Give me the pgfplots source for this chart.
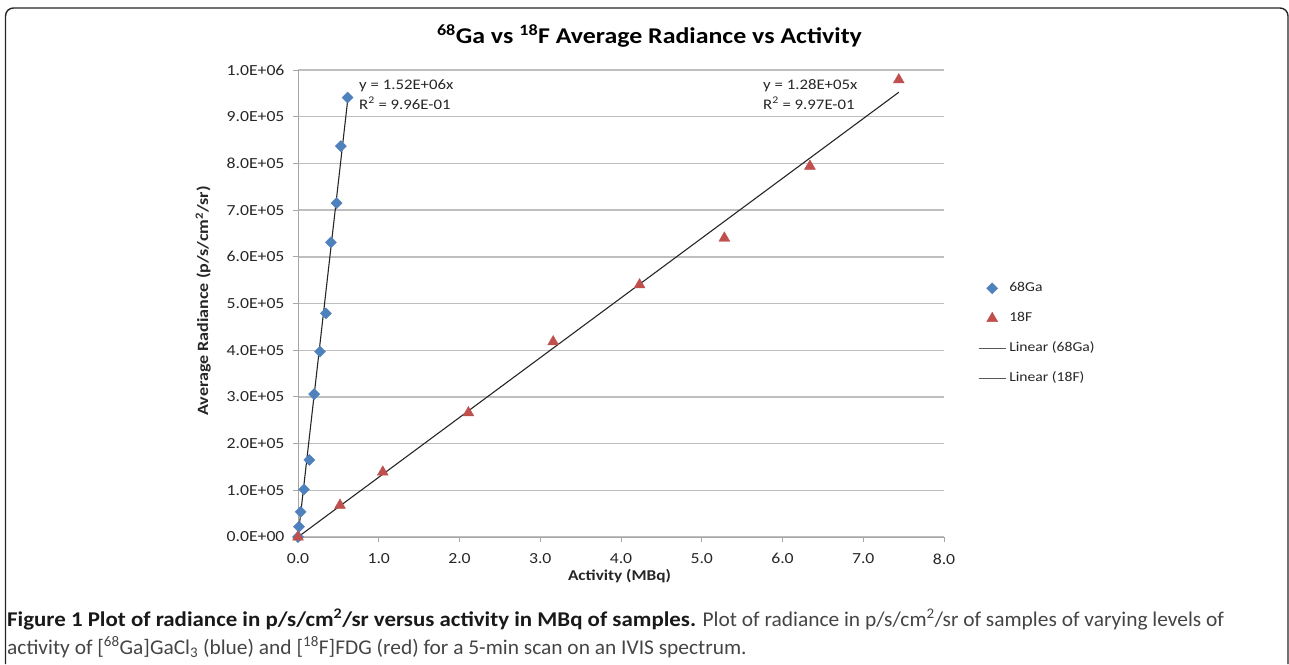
\documentclass[border=0pt]{standalone}
\usepackage{pgfplots}
\pgfplotsset{compat=1.18}
\usepackage{fontspec}
\setmainfont{Carlito}[FakeStretch=1.15]
\newfontfamily\capfont{Carlito}[FakeStretch=1.02, BoldFeatures={FakeStretch=1.09}]
\definecolor{gablue}{HTML}{4F81BD}
\definecolor{fred}{HTML}{C0504D}
\definecolor{gridc}{HTML}{BEBEBE}
\definecolor{axc}{HTML}{A6A6A6}
\definecolor{txt}{HTML}{262626}
\definecolor{captxt}{HTML}{444444}

\pgfplotsset{
  markleg/.style={legend image code/.code={\draw[##1] plot coordinates {(13.5pt,0pt)};}},
  lineleg/.style={legend image code/.code={\draw[draw=black!65, line width=1.1pt] (0pt,0pt)--(27pt,0pt);}},
}

\pgfplotstableread{
x y
0 0
0.012 22000
0.033 54000
0.074 102000
0.14 165000
0.20 306000
0.272 397000
0.346 479000
0.408 631000
0.478 715000
0.531 837000
0.614 941000
}\gadata

\pgfplotstableread{
x y
0 0
0.52 68000
1.05 139000
2.11 266000
3.16 418000
4.23 540000
5.28 640000
6.34 794000
7.44 979000
}\fdata

\pgfplotstableread{
x y
0 0
0.614 933300
}\galin

\pgfplotstableread{
x y
0 0
7.44 952300
}\flin

\begin{document}
\begin{tikzpicture}
\path[use as bounding box] (0,0) rectangle (1289pt,-664pt);
\draw[rounded corners=8pt, line width=1.4pt, black!85]
  (5.5pt,-664pt) -- (5.5pt,-8pt) -- (1288pt,-8pt) -- (1288pt,-664pt);

\begin{axis}[
  at={(298pt,-537pt)}, anchor=south west,
  scale only axis, width=646pt, height=467pt,
  xmin=0, xmax=8, ymin=0, ymax=1000000,
  axis x line=bottom, axis y line=left,
  axis line style={draw=axc, line width=1pt, -},
  tick style={draw=axc, line width=1pt},
  tick align=outside, major tick length=5pt,
  xtick={0,1,2,3,4,5,6,7,8},
  xticklabels={0.0,1.0,2.0,3.0,4.0,5.0,6.0,7.0,8.0},
  ytick={0,100000,200000,300000,400000,500000,600000,700000,800000,900000,1000000},
  yticklabels={0.0E+00,1.0E+05,2.0E+05,3.0E+05,4.0E+05,5.0E+05,6.0E+05,7.0E+05,8.0E+05,9.0E+05,1.0E+06},
  scaled ticks=false,
  ymajorgrids, major grid style={draw=gridc, line width=1.4pt},
  tick label style={font=\fontsize{15.4}{18}\selectfont, text=txt},
  yticklabel style={xshift=-5pt},
  xticklabel style={yshift=-8pt},
  legend cell align=left,
  legend style={at={(1.0526,0.548)}, anchor=north west, draw=none, fill=none,
    inner sep=0pt, row sep=16.2pt, column sep=2pt,
    font=\fontsize{13.6}{16}\selectfont,
    nodes={inner sep=1pt, text height=9pt, text depth=3pt, text=txt}},
  clip=false,
]
\addplot[only marks, mark=square*, mark size=3.9pt, mark options={rotate=45, fill=gablue, draw=gablue}, markleg] table {\gadata};
\addlegendentry{68Ga}
\addplot[only marks, mark=triangle*, mark size=6.3pt, mark options={fill=fred, draw=fred}, markleg] table {\fdata};
\addlegendentry{18F}
\addplot[draw=black!85, line width=1.1pt, no marks, lineleg] table {\galin};
\addlegendentry{Linear (68Ga)}
\addplot[draw=black!85, line width=1.1pt, no marks, lineleg] table {\flin};
\addlegendentry{Linear (18F)}
\end{axis}

% title and labels
\node[anchor=base, font=\bfseries\fontsize{22.5}{26}\selectfont, text=black] at (649.5pt,-43.3pt)
  {\textsuperscript{68}Ga vs \textsuperscript{18}F Average Radiance vs Activity};
\node[anchor=base, rotate=90, font=\bfseries\fontsize{15.7}{18}\selectfont, text=txt] at (208pt,-301pt)
  {Average Radiance (p/s/cm\textsuperscript{2}/sr)};
\node[anchor=base, font=\bfseries\fontsize{15}{18}\selectfont, text=txt] at (619.5pt,-580pt)
  {Activity (MBq)};

% trendline labels
\node[anchor=base west, inner sep=0pt, font=\fontsize{14.6}{18}\selectfont, text=txt] at (359pt,-89pt) {y = 1.52E+06x};
\node[anchor=base west, inner sep=0pt, font=\fontsize{14.6}{18}\selectfont, text=txt] at (359pt,-109pt) {R\textsuperscript{2} = 9.96E-01};
\node[anchor=base west, inner sep=0pt, font=\fontsize{14.6}{18}\selectfont, text=txt] at (763pt,-89pt) {y = 1.28E+05x};
\node[anchor=base west, inner sep=0pt, font=\fontsize{14.6}{18}\selectfont, text=txt] at (763pt,-109pt) {R\textsuperscript{2} = 9.97E-01};

% caption
\node[anchor=base west, inner sep=0pt, font=\capfont\fontsize{21}{24}\selectfont, text=captxt] at (7pt,-626pt)
  {{\bfseries\color{black!90}Figure 1 Plot of radiance in p/s/cm\textsuperscript{2}/sr versus activity in MBq of samples.} Plot of radiance in p/s/cm\textsuperscript{2}/sr of samples of varying levels of};
\node[anchor=base west, inner sep=0pt, font=\capfont\fontsize{21}{24}\selectfont, text=captxt] at (7pt,-654pt)
  {activity of [\textsuperscript{68}Ga]GaCl\textsubscript{3} (blue) and [\textsuperscript{18}F]FDG (red) for a 5-min scan on an IVIS spectrum.};
\end{tikzpicture}
\end{document}
